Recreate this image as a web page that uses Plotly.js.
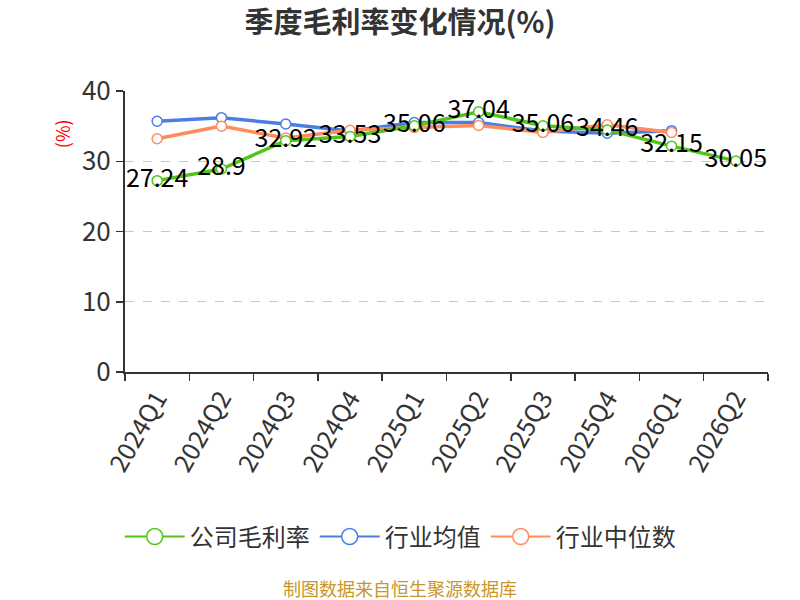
<!DOCTYPE html>
<html>
<head>
<meta charset="utf-8">
<script src="https://cdn.plot.ly/plotly-3.0.1.min.js"></script>
<style>
  html, body { margin: 0; padding: 0; background: #fff; }
  #chart { width: 800px; height: 600px; }
</style>
</head>
<body>
<div id="chart"></div>
<script>
var quarters = ["2024Q1", "2024Q2", "2024Q3", "2024Q4", "2025Q1", "2025Q2", "2025Q3", "2025Q4", "2026Q1", "2026Q2"];
var companyRate = [27.24, 28.9, 32.92, 33.53, 35.06, 37.04, 35.06, 34.46, 32.15, 30.05];
var industryAvg = [35.7, 36.2, 35.3, 34.3, 35.5, 35.5, 34.3, 34.0, 34.35];
var industryMedian = [33.2, 35.0, 33.3, 34.4, 34.8, 35.1, 34.1, 35.2, 34.1];

var font = "'Noto Sans CJK SC', 'Noto Sans', sans-serif";

var seriesNames = ["公司毛利率", "行业均值", "行业中位数"];
var seriesColors = ["#52c41a", "#4a7ee3", "#ff8c5a"];

function lineTrace(name, y, color) {
    return {
        x: quarters.slice(0, y.length),
        y: y,
        name: name,
        legendgroup: name,
        showlegend: false,
        type: "scatter",
        mode: "lines+markers",
        line: {color: color, width: 3.5},
        marker: {
            symbol: "circle",
            size: 10,
            color: "#ffffff",
            line: {color: color, width: 1.5}
        },
        hoverinfo: "x+y"
    };
}

// legend entries with bigger symbols (no data drawn)
function legendTrace(name, color) {
    return {
        x: [null],
        y: [null],
        name: name,
        legendgroup: name,
        type: "scatter",
        mode: "lines+markers",
        line: {color: color, width: 2},
        marker: {
            symbol: "circle",
            size: 16,
            color: "#ffffff",
            line: {color: color, width: 1.5}
        }
    };
}

var avgTrace = lineTrace(seriesNames[1], industryAvg, seriesColors[1]);
var medianTrace = lineTrace(seriesNames[2], industryMedian, seriesColors[2]);
var companyTrace = lineTrace(seriesNames[0], companyRate, seriesColors[0]);
companyTrace.mode = "lines+markers+text";
companyTrace.text = companyRate.map(function (v) { return String(v); });
companyTrace.textposition = "middle center";
companyTrace.textfont = {family: font, size: 25, color: "#000000"};

var data = [avgTrace, medianTrace, companyTrace];
seriesNames.forEach(function (n, i) {
    data.push(legendTrace(n, seriesColors[i]));
});

var layout = {
    width: 800,
    height: 600,
    paper_bgcolor: "#ffffff",
    plot_bgcolor: "#ffffff",
    margin: {l: 125, r: 32, t: 91, b: 228},
    font: {family: font, color: "#333333"},
    title: {
        text: "<b>季度毛利率变化情况(%)</b>",
        font: {family: font, size: 29, color: "#333333"},
        x: 0.5,
        xanchor: "center",
        y: 0.962,
        yanchor: "middle"
    },
    xaxis: {
        type: "category",
        range: [-0.5, 9.5],
        tickson: "boundaries",
        ticks: "outside",
        ticklen: 7,
        tickwidth: 1.5,
        tickcolor: "#333333",
        showline: true,
        linecolor: "#333333",
        linewidth: 2,
        showgrid: false,
        zeroline: false,
        tickangle: -60,
        tickfont: {family: font, size: 25, color: "#333333"},
        fixedrange: true
    },
    yaxis: {
        range: [0, 40],
        dtick: 10,
        ticks: "outside",
        ticklen: 7,
        tickwidth: 1.5,
        tickcolor: "#333333",
        showline: true,
        linecolor: "#333333",
        linewidth: 2,
        showgrid: true,
        gridcolor: "#c8c8c8",
        griddash: "dash",
        gridwidth: 1,
        zeroline: false,
        tickfont: {family: font, size: 26, color: "#333333"},
        fixedrange: true
    },
    showlegend: true,
    legend: {
        orientation: "h",
        x: 0.428,
        xanchor: "center",
        y: -0.587,
        yanchor: "middle",
        font: {family: font, size: 24, color: "#333333"},
        itemwidth: 60,
        traceorder: "normal"
    },
    annotations: [
        {
            text: "(%)",
            xref: "paper",
            yref: "paper",
            x: -0.098,
            y: 0.85,
            xanchor: "center",
            yanchor: "middle",
            textangle: -90,
            showarrow: false,
            font: {family: font, size: 18, color: "#ff0000"}
        },
        {
            text: "制图数据来自恒生聚源数据库",
            xref: "paper",
            yref: "paper",
            x: 0.428,
            y: -0.768,
            xanchor: "center",
            yanchor: "middle",
            showarrow: false,
            font: {family: font, size: 18, color: "#c8962a"}
        }
    ]
};

Plotly.newPlot("chart", data, layout, {displayModeBar: false, staticPlot: true});
</script>
</body>
</html>
